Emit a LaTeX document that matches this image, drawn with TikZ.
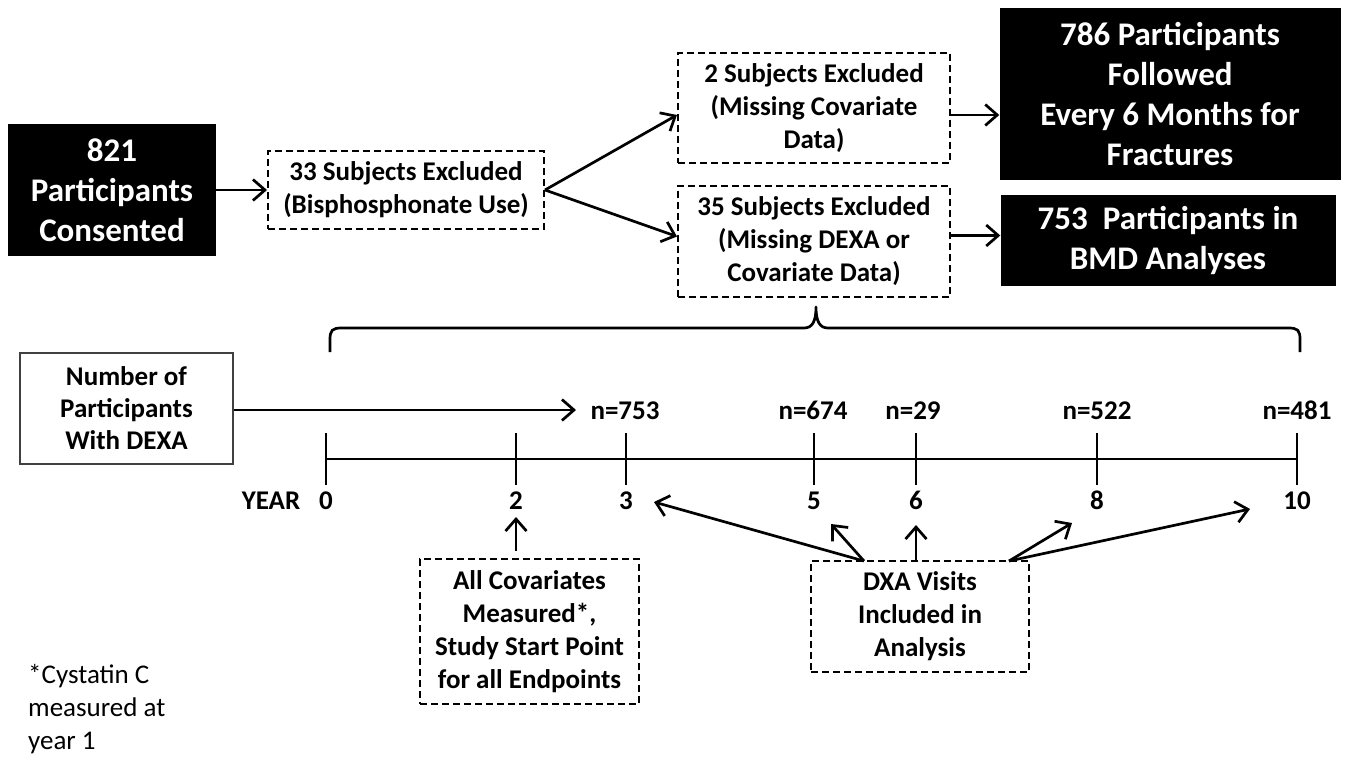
\documentclass[tikz,border=0pt]{standalone}
\usepackage{fontspec}
\setmainfont{Carlito}
\usetikzlibrary{arrows.meta}
\begin{document}
\begin{tikzpicture}[x=1pt,y=-1pt,
  arr/.style={draw=black,line width=2.7pt,-{Straight Barb[length=12pt,width=21pt]}},
  bigbox/.style={fill=black,text=white,font=\fontsize{33}{40}\selectfont\bfseries,align=center,inner sep=0pt},
  dbox/.style={draw=black,line width=2pt,dash pattern=on 7pt off 4pt,fill=white,
    font=\fontsize{27}{33}\selectfont\bfseries,align=center,inner sep=0pt},
  sbox/.style={draw=black!75,line width=1.6pt,fill=white,
    font=\fontsize{27}{32}\selectfont\bfseries,align=center,inner sep=0pt},
  nlab/.style={font=\fontsize{27}{30}\selectfont\bfseries,inner sep=2pt,anchor=base},
  ylab/.style={font=\fontsize{27}{30}\selectfont\bfseries,inner sep=2pt,anchor=base},
  tickline/.style={line width=2.7pt},
]
\useasboundingbox (0,0) rectangle (1357,762);

% --- participant flow ---
\node[bigbox,minimum width=208pt,minimum height=132pt] (A) at (112,190) {821\\Participants\\Consented};
\node[dbox,minimum width=276pt,minimum height=78pt] (B) at (406,190) {33 Subjects Excluded\\(Bisphosphonate Use)};
\node[dbox,minimum width=272pt,minimum height=110pt] (C) at (814,108) {2 Subjects Excluded\\(Missing Covariate\\Data)};
\node[dbox,minimum width=272pt,minimum height=111pt] (D) at (814,241.5) {35 Subjects Excluded\\(Missing DEXA or\\Covariate Data)};
\node[bigbox,minimum width=341pt,minimum height=172pt] (E) at (1170,94) {786 Participants\\Followed\\Every 6 Months for\\Fractures};
\node[bigbox,minimum width=335pt,minimum height=91pt] (F) at (1168,240.5) {753\ \ Participants in\\BMD Analyses};

\draw[arr] (A.east) -- (B.west);
\draw[arr] (B.east) -- ([yshift=-7pt]C.west);
\draw[arr] (B.east) -- ([yshift=5pt]D.west);
\draw[arr] ([yshift=-7pt]C.east) -- ([yshift=-7pt]C.east -| E.west);
\draw[arr] ([yshift=6pt]D.east) -- ([yshift=6pt]D.east -| F.west);

% --- brace over the timeline ---
\draw[line width=2.7pt,line join=round]
  (330,352) -- (330,340) .. controls (330,330) and (332,328) .. (342,328)
  -- (804,328) .. controls (812,328) and (816,322) .. (816,307)
  .. controls (816,322) and (820,328) .. (828,328)
  -- (1288,328) .. controls (1298,328) and (1300,330) .. (1300,340) -- (1300,352);

% --- timeline ---
\node[sbox,minimum width=213pt,minimum height=111pt] (G) at (126.5,408.5) {Number of\\Participants\\With DEXA};

\coordinate (t0) at (326,459);
\coordinate (t10) at (1297,459);
\draw[line width=2.7pt] (t0) -- (t10);
\foreach \nm/\xx in {0/326,2/516,3/626,5/814,6/916,8/1097,10/1297}{
  \draw[tickline] (\xx,433) -- (\xx,485);
  \node[ylab] (y\nm) at (\xx,509) {\nm};
}
\node[ylab] (year) at (271,509) {YEAR};

\node[nlab] (n753) at (625,419) {n=753};
\node[nlab] (n674) at (813,419) {n=674};
\node[nlab] (n29)  at (913,419) {n=29};
\node[nlab] (n522) at (1097,419) {n=522};
\node[nlab] (n481) at (1297,419) {n=481};

\coordinate (gtip) at (576,410);
\draw[arr] (G.east |- gtip) -- (gtip);

% --- annotation boxes below the timeline ---
\node[dbox,minimum width=219pt,minimum height=145pt] (H) at (529.5,631.5) {All Covariates\\Measured*,\\Study Start Point\\for all Endpoints};
\node[dbox,minimum width=218pt,minimum height=111pt] (I) at (920,616.5) {DXA Visits\\Included in\\Analysis};

\coordinate (h2) at (516,517);
\draw[arr] ([yshift=7pt]H.north -| h2) -- (h2);

\coordinate (iA) at (864,561);
\coordinate (iB) at (916,561);
\coordinate (iC) at (1009,561);
\coordinate (k3) at (654,502);
\coordinate (k5) at (831,524);
\coordinate (k6) at (916,525);
\coordinate (k8) at (1072,523);
\coordinate (k10) at (1250,509);
\draw[arr] (iA) -- (k3);
\draw[arr] (iA) -- (k5);
\draw[arr] (iB) -- (k6);
\draw[arr] (iC) -- (k8);
\draw[arr] (iC) -- (k10);

% --- footnote ---
\node[font=\fontsize{27}{33}\selectfont,align=left,anchor=north west,inner sep=0pt] (note) at (28,664) {*Cystatin C\\measured at\\year 1};
\end{tikzpicture}
\end{document}
